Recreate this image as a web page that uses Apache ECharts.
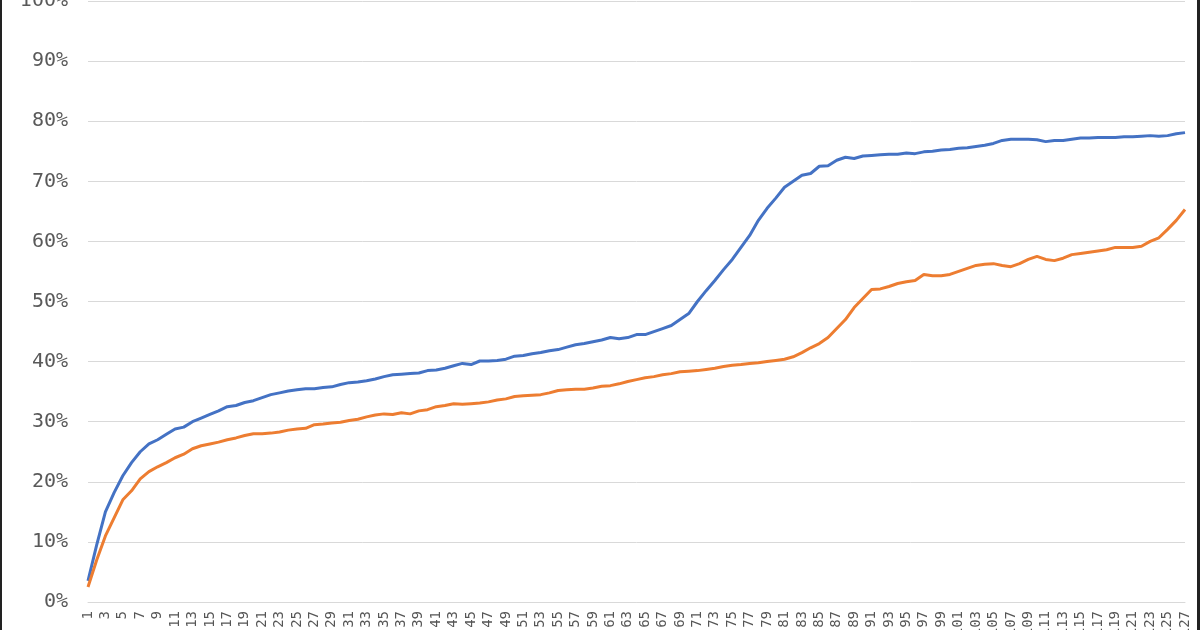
<!DOCTYPE html>
<html><head><meta charset="utf-8">
<script src="https://cdn.jsdelivr.net/npm/echarts@6/dist/echarts.min.js"></script>
<style>html,body{margin:0;padding:0;background:#fff}#c{width:1200px;height:630px}</style>
</head><body><div id="c"></div>
<script>
const categories = Array.from({length:127},(_,i)=>String(i+1));
const blueSeries = [3.5,9.5,15,18.2,21,23.2,25,26.3,27,27.9,28.8,29.1,30,30.6,31.2,31.8,32.5,32.7,33.2,33.5,34,34.5,34.8,35.1,35.3,35.5,35.5,35.7,35.8,36.2,36.5,36.6,36.8,37.1,37.5,37.8,37.9,38,38.1,38.5,38.6,38.9,39.3,39.7,39.5,40.1,40.1,40.2,40.4,40.9,41,41.3,41.5,41.8,42,42.4,42.8,43,43.3,43.6,44,43.8,44,44.5,44.5,45,45.5,46,47,48,50,51.8,53.5,55.3,57,59,61,63.5,65.5,67.2,69,70,71,71.3,72.5,72.6,73.5,74,73.8,74.2,74.3,74.4,74.5,74.5,74.7,74.6,74.9,75,75.2,75.3,75.5,75.6,75.8,76,76.3,76.8,77,77,77,76.9,76.6,76.8,76.8,77,77.2,77.2,77.3,77.3,77.3,77.4,77.4,77.5,77.6,77.5,77.6,77.9,78.1];
const orangeSeries = [2.5,7,11,14,17,18.5,20.5,21.7,22.5,23.2,24,24.6,25.5,26,26.3,26.6,27,27.3,27.7,28,28,28.1,28.3,28.6,28.8,28.9,29.5,29.6,29.8,29.9,30.2,30.4,30.8,31.1,31.3,31.2,31.5,31.3,31.8,32,32.5,32.7,33,32.9,33,33.1,33.3,33.6,33.8,34.2,34.3,34.4,34.5,34.8,35.2,35.3,35.4,35.4,35.6,35.9,36,36.3,36.7,37,37.3,37.5,37.8,38,38.3,38.4,38.5,38.7,38.9,39.2,39.4,39.5,39.7,39.8,40,40.2,40.4,40.8,41.5,42.3,43,44,45.5,47,49,50.5,52,52.1,52.5,53,53.3,53.5,54.5,54.3,54.3,54.5,55,55.5,56,56.2,56.3,56,55.8,56.3,57,57.5,57,56.8,57.2,57.8,58,58.2,58.4,58.6,59,59,59,59.2,60,60.6,62,63.5,65.3];
const yTicks = [0,10,20,30,40,50,60,70,80,90,100];
const chart = echarts.init(document.getElementById('c'));
chart.setOption({
  animation:false,
  graphic:[
    {type:'rect',shape:{x:0,y:0,width:2,height:630},style:{fill:'#222'}},
    {type:'rect',shape:{x:1197,y:0,width:3,height:630},style:{fill:'#222'}}
  ],
  grid:{left:88,right:15,top:1,bottom:28,containLabel:false,outerBoundsMode:'none'},
  xAxis:{type:'category',data:categories,boundaryGap:false,
    axisLine:{lineStyle:{color:'#d9d9d9'}},axisTick:{show:false},
    axisLabel:{rotate:90,interval:1,hideOverlap:false,fontFamily:'DejaVu Sans Mono',fontSize:14,color:'#555',margin:9}},
  yAxis:{type:'value',min:0,max:100,interval:10,
    axisLine:{show:false},axisTick:{show:false},
    splitLine:{lineStyle:{color:'#d9d9d9'}},
    axisLabel:{formatter:v=>yTicks.includes(v)?v+'%':'',fontFamily:'DejaVu Sans Mono',fontSize:20,color:'#595959',margin:20}},
  series:[
    {type:'line',data:blueSeries,showSymbol:false,lineStyle:{color:'#4472C4',width:3},itemStyle:{color:'#4472C4'}},
    {type:'line',data:orangeSeries,showSymbol:false,lineStyle:{color:'#ED7D31',width:3},itemStyle:{color:'#ED7D31'}}
  ]
});
</script></body></html>
